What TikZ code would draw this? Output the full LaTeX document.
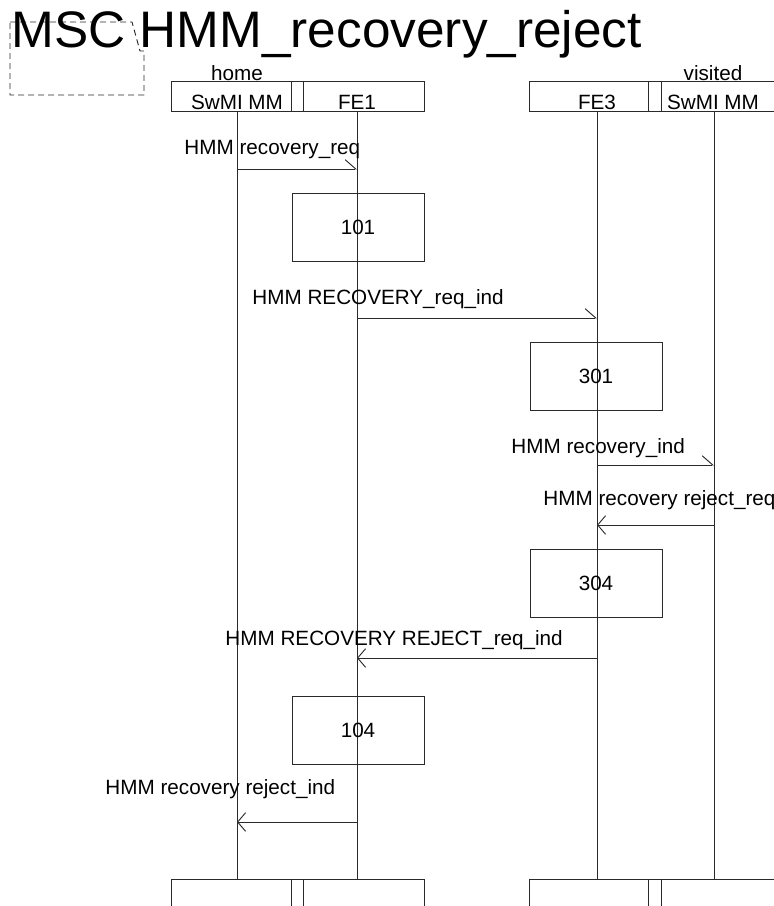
\documentclass[tikz,border=0pt]{standalone}
\usepackage{fontspec}
\setmainfont{Liberation Sans}
\usetikzlibrary{arrows.meta,positioning}
\definecolor{lineg}{HTML}{2A2A2A}

\begin{document}
\begin{tikzpicture}[
			x=0.75pt,y=-0.75pt,
			line width=0.7pt,
			lbl/.style={font=\fontsize{15.5}{17}\selectfont,inner sep=0pt,anchor=base west},
			hdr/.style={font=\fontsize{15.5}{17}\selectfont,inner sep=0pt,anchor=base},
			act/.style={draw=lineg,minimum width=99pt,minimum height=51pt,inner sep=0pt,font=\fontsize{15.5}{17}\selectfont},
			life/.style={draw=lineg},
			msgr/.style={draw=lineg,-{Straight Barb[left,length=8pt,width=14pt]}},
			msgl/.style={draw=lineg,-{Straight Barb[length=6pt,width=14pt]}}
			]
			\useasboundingbox (0,0) rectangle (774,906);
			% title and frame
			\draw[lineg,dash pattern=on 4.5pt off 3pt] (10,22) -- (132,22) -- (140,51) -- (144,51) -- (144,95) -- (10,95) -- cycle;
			\node[inner sep=0pt,anchor=base west,font=\fontsize{38.5}{40}\selectfont] (title) at (11,48) {MSC HMM\_recovery\_reject};
			% instance heads and feet
			\draw[lineg] (171,81) rectangle (424,111) (291,81) -- (291,111) (303,81) -- (303,111);
			\draw[lineg] (529,81) rectangle (790,111) (648,81) -- (648,111) (661,81) -- (661,111);
			\draw[lineg] (171,879) rectangle (424,920) (291,879) -- (291,920) (303,879) -- (303,920);
			\draw[lineg] (529,879) rectangle (790,920) (648,879) -- (648,920) (661,879) -- (661,920);
			\node[hdr] (home) at (237,80) {home};
			\node[hdr] (visited) at (713,80) {visited};
			\node[hdr] (tswh) at (237,109) {SwMI MM};
			\node[hdr] (tfe1) at (357,109) {FE1};
			\node[hdr] (tfe3) at (597,109) {FE3};
			\node[hdr] (tswv) at (713,109) {SwMI MM};
			% lifelines
			\foreach \n/\x in {swh/237,fe1/357,fe3/597,swv/714} {
				\coordinate (\n) at (\x,111);
				\coordinate (\n end) at (\x,879);
				\draw[life] (\n) -- (\n end);
			}
			% message heights
			\coordinate (m1) at (0,169);
			\coordinate (m2) at (0,318);
			\coordinate (m3) at (0,465);
			\coordinate (m4) at (0,525);
			\coordinate (m5) at (0,658);
			\coordinate (m6) at (0,822);
			% messages
			\draw[msgr] (swh |- m1) -- (fe1 |- m1);
			\node[lbl] (l1) at (184,154) {HMM recovery\_req};
			\node[act] (a101) at (358,227) {101};
			\draw[msgr] (fe1 |- m2) -- (fe3 |- m2);
			\node[lbl] (l2) at (252,304) {HMM RECOVERY\_req\_ind};
			\node[act] (a301) at (596,376) {301};
			\draw[msgr] (fe3 |- m3) -- (swv |- m3);
			\node[lbl] (l3) at (511,453) {HMM recovery\_ind};
			\draw[msgl] (swv |- m4) -- (fe3 |- m4);
			\node[lbl] (l4) at (543,505) {HMM recovery reject\_req};
			\node[act] (a304) at (596,583) {304};
			\draw[msgl] (fe3 |- m5) -- (fe1 |- m5);
			\node[lbl] (l5) at (225,645) {HMM RECOVERY REJECT\_req\_ind};
			\node[act] (a104) at (358,730) {104};
			\draw[msgl] (fe1 |- m6) -- (swh |- m6);
			\node[lbl] (l6) at (105,794) {HMM recovery reject\_ind};
		\end{tikzpicture}
\end{document}
